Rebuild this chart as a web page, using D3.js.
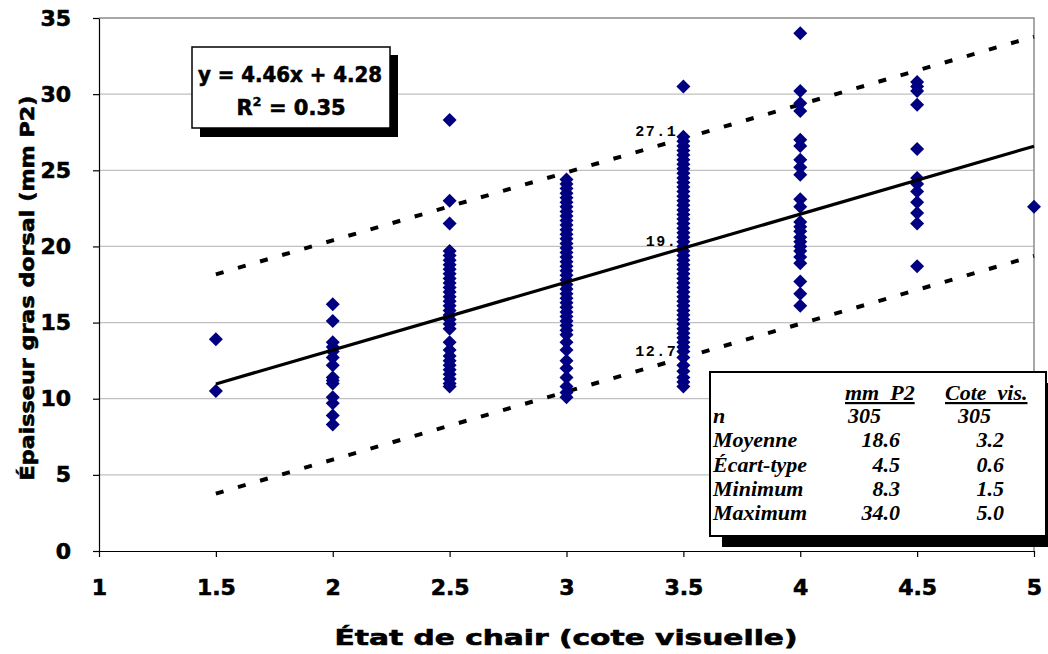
<html>
<head>
  <meta charset="utf-8">
  <title>Épaisseur gras dorsal</title>
  <script src="https://d3js.org/d3.v7.min.js"></script>
  <style>
    body { margin: 0; background: #fff; }
    .axis text { font-family: "DejaVu Sans"; font-weight: bold; font-size: 22px; fill: #000; stroke: #000; stroke-width: 0.6; }
    .axis path, .axis line { stroke: #000; stroke-width: 1.2; }
    .tbl { font-family: "Liberation Serif"; font-weight: bold; font-style: italic; font-size: 22px; white-space: pre; }
    .heavy { font-family: "DejaVu Sans"; font-weight: bold; stroke: #000; stroke-width: 0.6; }
  </style>
</head>
<body>
<svg id="chart" width="1048" height="654"></svg>
<script>
// data
var xTicks = [1, 1.5, 2, 2.5, 3, 3.5, 4, 4.5, 5];
var yTicks = [0, 5, 10, 15, 20, 25, 30, 35];

var col15 = [13.9, 10.5];
var col20 = [16.2, 15.1, 13.7, 13.4, 13.1, 12.7, 12.2, 11.4, 11.2, 11.0, 10.1, 9.7, 8.9, 8.3];
var col25 = [28.3, 23.0, 21.5, 19.7, 19.4, 19.1, 18.8, 18.5, 18.2, 17.9, 17.6, 17.3, 17.0, 16.7, 16.4, 16.1,
             15.8, 15.5, 15.2, 14.9, 14.6, 13.7, 13.2, 12.8, 12.5, 12.2, 11.9, 11.6, 11.3, 11.0, 10.8];
var col30 = [24.4, 24.1, 23.8, 23.5, 23.2, 22.9, 22.6, 22.3, 22.0, 21.7, 21.4, 21.1, 20.8, 20.5, 20.2, 19.9,
             19.6, 19.3, 19.0, 18.7, 18.4, 18.1, 17.8, 17.5, 17.2, 16.9, 16.6, 16.3, 16.0, 15.7, 15.4, 15.1,
             14.8, 14.5, 14.2, 13.7, 13.2, 12.5, 12.0, 11.4, 10.8, 10.4, 10.1];
var col35 = [30.5, 27.2, 26.9, 26.6, 26.3, 26.0, 25.7, 25.4, 25.1, 24.8, 24.5, 24.2, 23.9, 23.6, 23.3, 23.0,
             22.7, 22.4, 22.1, 21.8, 21.5, 21.2, 20.9, 20.6, 20.3, 20.0, 19.7, 19.4, 19.1, 18.8, 18.5, 18.2,
             17.9, 17.6, 17.3, 17.0, 16.7, 16.4, 16.1, 15.8, 15.5, 15.2, 14.9, 14.6, 14.3, 14.0, 13.7, 13.4,
             13.1, 12.7, 12.2, 11.8, 11.4, 11.1, 10.8];
var col40 = [34.0, 30.2, 29.4, 28.9, 27.0, 26.6, 25.7, 25.2, 24.7, 23.1, 22.6, 21.6, 21.3, 21.0, 20.6, 20.3,
             20.0, 19.7, 19.3, 18.9, 17.7, 16.9, 16.1];
var col45 = [30.8, 30.5, 30.2, 29.3, 26.4, 24.5, 24.1, 23.6, 22.9, 22.2, 21.5, 18.7];
var col50 = [22.6];

var columns = [[1.5, col15], [2, col20], [2.5, col25], [3, col30], [3.5, col35], [4, col40], [4.5, col45], [5, col50]];

// regression and band
var slope = 4.46, intercept = 4.28, band = 7.2;
var fitX = [1.5, 2, 2.5, 3, 3.5, 4, 4.5, 5];
var bandLabels = ["27.1", "19.", "12.7"];

var statRows = ["n", "Moyenne", "Écart-type", "Minimum", "Maximum"];
var statMm = ["305", "18.6", "4.5", "8.3", "34.0"];
var statCote = ["305", "3.2", "0.6", "1.5", "5.0"];

var svg = d3.select("#chart");
var x = d3.scaleLinear().domain([1, 5]).range([99, 1034]);
var y = d3.scaleLinear().domain([0, 35]).range([551, 18]);

// grid
svg.append("g").selectAll("line")
  .data(yTicks.filter(function (d) { return d > 0 && d < 35; }))
  .enter().append("line")
  .attr("x1", x(1)).attr("x2", x(5))
  .attr("y1", function (d) { return y(d); }).attr("y2", function (d) { return y(d); })
  .attr("stroke", "#c0c0c0").attr("stroke-width", 1.3);

// plot frame top / right
svg.append("path")
  .attr("d", "M" + x(1) + "," + y(35) + "H" + x(5) + "V" + y(0))
  .attr("fill", "none").attr("stroke", "#8c8c8c").attr("stroke-width", 1.5);

// axes
svg.append("g").attr("class", "axis")
  .attr("transform", "translate(0," + y(0) + ")")
  .call(d3.axisBottom(x).tickValues(xTicks).tickSize(6).tickPadding(22).tickSizeOuter(0)
    .tickFormat(function (d) { return d; }));
svg.append("g").attr("class", "axis")
  .attr("transform", "translate(" + x(1) + ",0)")
  .call(d3.axisLeft(y).tickValues(yTicks).tickSize(6).tickPadding(22).tickSizeOuter(0));

// band lines
var lineGen = d3.line().x(function (d) { return x(d[0]); }).y(function (d) { return y(d[1]); });
[band, -band].forEach(function (off) {
  svg.append("path")
    .datum(fitX.map(function (v) { return [v, slope * v + intercept + off]; }))
    .attr("d", lineGen)
    .attr("fill", "none").attr("stroke", "#000").attr("stroke-width", 4)
    .attr("stroke-dasharray", "8,15");
});

// points
var diamond = "M0,-7L7,0L0,7L-7,0Z";
columns.forEach(function (c) {
  svg.append("g").selectAll("path")
    .data(c[1]).enter().append("path")
    .attr("d", diamond)
    .attr("fill", "#000080")
    .attr("transform", function (d) { return "translate(" + x(c[0]) + "," + y(d) + ")"; });
});

// regression line
svg.append("path")
  .datum([[1.5, slope * 1.5 + intercept], [5, slope * 5 + intercept]])
  .attr("d", lineGen)
  .attr("fill", "none").attr("stroke", "#000").attr("stroke-width", 3.2);

// labels at 3.5
var at35 = [slope * 3.5 + intercept + band, slope * 3.5 + intercept, slope * 3.5 + intercept - band];
svg.append("g").selectAll("text")
  .data(bandLabels).enter().append("text")
  .attr("x", x(3.5) - 6)
  .attr("y", function (d, i) { return y(at35[i]) - 2; })
  .attr("text-anchor", "end")
  .style("font-family", "Liberation Mono").style("font-weight", "bold").style("font-size", "15px")
  .style("letter-spacing", "1.5px")
  .text(function (d) { return d; });

// equation box
svg.append("rect").attr("x", 200).attr("y", 55).attr("width", 198).attr("height", 82).attr("fill", "#000");
svg.append("rect").attr("x", 192).attr("y", 47).attr("width", 198).attr("height", 81)
  .attr("fill", "#fff").attr("stroke", "#000").attr("stroke-width", 1.5);
svg.append("text").attr("class", "heavy").attr("x", 290).attr("y", 82).attr("text-anchor", "middle")
  .attr("textLength", 184).attr("lengthAdjust", "spacingAndGlyphs")
  .style("font-size", "21px")
  .text("y = 4.46x + 4.28");
var r2 = svg.append("text").attr("class", "heavy").attr("x", 291).attr("y", 115).attr("text-anchor", "middle")
  .style("font-size", "21px");
r2.append("tspan").text("R");
r2.append("tspan").attr("dy", -9).style("font-size", "13px").style("stroke-width", "0.3").text("2");
r2.append("tspan").attr("dy", 9).text(" = 0.35");

// stats table
svg.append("rect").attr("x", 722).attr("y", 383).attr("width", 330).attr("height", 164).attr("fill", "#000");
svg.append("rect").attr("x", 710).attr("y", 372).attr("width", 336).attr("height", 164)
  .attr("fill", "#fff").attr("stroke", "#000").attr("stroke-width", 2);
var tbl = svg.append("g").attr("class", "tbl");
tbl.append("text").attr("xml:space", "preserve").attr("x", 845).attr("y", 400)
  .attr("text-decoration", "underline").text("mm  P2");
tbl.append("text").attr("xml:space", "preserve").attr("x", 945).attr("y", 400)
  .attr("text-decoration", "underline").text("Cote  vis.");
statRows.forEach(function (r, i) {
  var yy = 423 + i * 24.3;
  tbl.append("text").attr("x", 713).attr("y", yy).text(r);
  tbl.append("text").attr("x", i === 0 ? 848 : 900).attr("y", yy)
    .attr("text-anchor", i === 0 ? "start" : "end").text(statMm[i]);
  tbl.append("text").attr("x", i === 0 ? 958 : 1004).attr("y", yy)
    .attr("text-anchor", i === 0 ? "start" : "end").text(statCote[i]);
});

// axis titles
svg.append("text").attr("class", "heavy").attr("x", 566).attr("y", 645).attr("text-anchor", "middle")
  .attr("textLength", 463).attr("lengthAdjust", "spacingAndGlyphs")
  .style("font-size", "21px")
  .text("État de chair (cote visuelle)");
svg.append("text").attr("class", "heavy").attr("transform", "translate(34,288) rotate(-90)").attr("text-anchor", "middle")
  .attr("textLength", 385).attr("lengthAdjust", "spacingAndGlyphs")
  .style("font-size", "20px")
  .text("Épaisseur gras dorsal (mm P2)");
</script>
</body>
</html>
